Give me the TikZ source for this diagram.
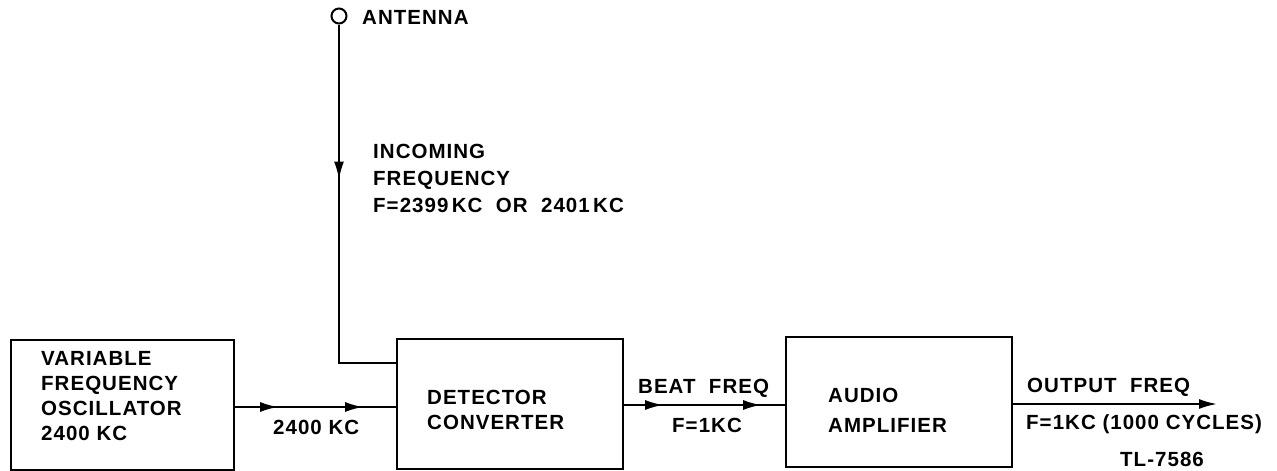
\documentclass[tikz,border=0pt]{standalone}
\usepackage{fontspec}
\setmainfont{Liberation Sans}[LetterSpace=5]
\usetikzlibrary{arrows.meta,decorations.markings}
\tikzset{ah/.tip={Latex[length=18pt,width=10pt]}}
\begin{document}
\begin{tikzpicture}[x=1pt,y=-1pt,
  lbl/.style={font=\bfseries\fontsize{20.5}{25}\selectfont, inner sep=0pt, anchor=west, align=left},
  blk/.style={draw, line width=2.3pt, inner sep=0pt},
  wire/.style={line width=2pt}
]
\useasboundingbox (0,0) rectangle (1277,471);
% blocks
\node[blk, minimum width=223pt, minimum height=130pt] (vfo) at (122.5,405) {};
\node[blk, minimum width=226pt, minimum height=130pt] (det) at (510,404) {};
\node[blk, minimum width=226pt, minimum height=130pt] (aud) at (899,402) {};
\node[lbl] (vfot) at (41,396) {VARIABLE\\FREQUENCY\\OSCILLATOR\\2400 KC};
\node[lbl] (dett) at (427,409.5) {DETECTOR\\CONVERTER};
\node[lbl, font=\bfseries\fontsize{20.5}{30}\selectfont] (audt) at (828,410) {AUDIO\\AMPLIFIER};
% antenna
\node[circle, draw, line width=2pt, minimum size=15pt, inner sep=0pt] (ant) at (339,16) {};
\node[lbl] (antt) at (362,17) {ANTENNA};
\node[lbl, font=\bfseries\fontsize{20.5}{27}\selectfont] (inc) at (373,178) {INCOMING\\FREQUENCY\\F=2399\,KC\ \ OR\ \ 2401\,KC};
% coordinates
\coordinate (yin) at (0,363);
\coordinate (y1) at (0,407);
\coordinate (y2) at (0,405);
\coordinate (y3) at (0,404);
\coordinate (out) at (1217,404);
% connectors
\draw[wire, postaction={decorate}, decoration={markings, mark=at position 155pt with {\arrow{ah}}}]
  (ant.south) -- (ant.south |- yin) -- (det.west |- yin);
\draw[wire, postaction={decorate}, decoration={markings,
  mark=at position 43pt with {\arrow{ah}}, mark=at position 128pt with {\arrow{ah}}}]
  (vfo.east |- y1) -- (det.west |- y1);
\draw[wire, postaction={decorate}, decoration={markings,
  mark=at position 39pt with {\arrow{ah}}, mark=at position 137pt with {\arrow{ah}}}]
  (det.east |- y2) -- (aud.west |- y2);
\draw[wire, -ah] (aud.east |- y3) -- (out);
% labels
\node[lbl] (l2400) at (273,427) {2400 KC};
\node[lbl] (lbeat) at (638,388) {BEAT\ \ FREQ};
\node[lbl] (lf1) at (672,425) {F=1KC};
\node[lbl] (lout) at (1027,387) {OUTPUT\ \ FREQ};
\node[lbl] (lf2) at (1026,424) {F=1KC (1000 CYCLES)};
\node[lbl] (ltl) at (1120,459) {TL-7586};
\end{tikzpicture}
\end{document}
